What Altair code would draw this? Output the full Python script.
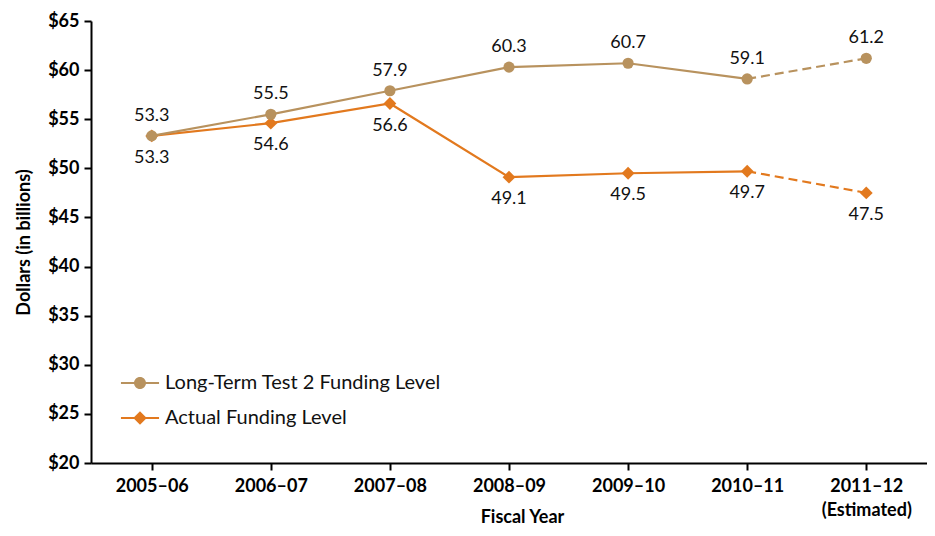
import altair as alt
import pandas as pd

years = ["2005–06", "2006–07", "2007–08", "2008–09", "2009–10", "2010–11", "2011–12"]
long_term = [53.3, 55.5, 57.9, 60.3, 60.7, 59.1, 61.2]
actual = [53.3, 54.6, 56.6, 49.1, 49.5, 49.7, 47.5]
series_names = ["Long-Term Test 2 Funding Level", "Actual Funding Level"]
y_ticks = [20, 25, 30, 35, 40, 45, 50, 55, 60, 65]

TAN = "#B8925E"
ORANGE = "#E2791E"
FONT = "Lato"

rows = []
for i, yr in enumerate(years):
    rows.append(dict(year=yr, idx=i, series=series_names[0], value=long_term[i]))
    rows.append(dict(year=yr, idx=i, series=series_names[1], value=actual[i]))
df = pd.DataFrame(rows)

base = alt.Chart(df)

x = alt.X(
    "year:N",
    sort=years,
    scale=alt.Scale(type="point", padding=0.51),
    axis=alt.Axis(
        title="Fiscal Year",
        labelAngle=0,
        labelPadding=7,
        labelLineHeight=24,
        labelExpr="datum.value == '2011–12' ? ['2011–12', '(Estimated)'] : datum.value",
        titleY=59,
        titleX=431,
        titleBaseline="alphabetic",
    ),
)
y = alt.Y(
    "value:Q",
    scale=alt.Scale(domain=[20, 65], nice=False, zero=False),
    axis=alt.Axis(
        title="Dollars (in billions)",
        values=y_ticks,
        labelExpr="'$' + datum.value",
        labelPadding=5,
        titlePadding=14,
    ),
)
color_scale = alt.Scale(domain=series_names, range=[TAN, ORANGE])


def series_layers(name, col, shape, size, dy):
    sub = base.transform_filter(alt.datum.series == name)
    solid = sub.transform_filter(alt.datum.idx <= 5).mark_line(
        strokeWidth=2.2, color=col
    ).encode(x=x, y=y)
    dashed = sub.transform_filter(alt.datum.idx >= 5).mark_line(
        strokeWidth=2.2, strokeDash=[9, 5], color=col
    ).encode(x=x, y=y)
    pts = sub.mark_point(
        shape=shape, size=size, filled=True, opacity=1, color=col
    ).encode(x=x, y=y)
    labels = sub.mark_text(
        dy=dy, fontSize=18, font=FONT, color="#111111", baseline="middle"
    ).encode(x=x, y=y, text=alt.Text("value:Q", format=".1f"))
    return [solid, dashed, pts, labels]


circle_path = (
    "M-1.27,-0.07 L1.27,-0.07 L1.27,0.07 L-1.27,0.07 Z "
    "M-0.4,0 A0.4,0.4 0 1,1 0.4,0 A0.4,0.4 0 1,1 -0.4,0 Z"
)
diamond_path = (
    "M-1.27,-0.07 L1.27,-0.07 L1.27,0.07 L-1.27,0.07 Z "
    "M0,-0.45 L0.45,0 L0,0.45 L-0.45,0 Z"
)

leg = alt.Legend(
    title=None,
    orient="none",
    legendX=34,
    legendY=347,
    symbolSize=900,
    symbolStrokeWidth=0,
    symbolOpacity=1,
    labelFontSize=20,
    labelFont=FONT,
    labelColor="#111111",
    labelOffset=10,
    labelLimit=0,
    rowPadding=10,
)

legend_layer = base.mark_point(filled=True, opacity=0).encode(
    x=x,
    y=y,
    color=alt.Color("series:N", scale=color_scale, legend=leg),
    shape=alt.Shape(
        "series:N",
        scale=alt.Scale(domain=series_names, range=[circle_path, diamond_path]),
        legend=leg,
    ),
)

layers = (
    series_layers(series_names[1], ORANGE, "diamond", 165, 22)
    + series_layers(series_names[0], TAN, "circle", 125, -20)
    + [legend_layer]
)

chart = (
    alt.layer(*layers)
    .properties(
        width=836,
        height=442,
        autosize=alt.AutoSizeParams(type="none"),
        padding={"left": 83, "top": 13, "right": 0, "bottom": 65},
    )
    .configure_view(stroke=None)
    .configure_axis(
        grid=False,
        domainColor="#000000",
        domainWidth=2,
        tickColor="#000000",
        tickWidth=2,
        tickSize=7,
        labelFont=FONT,
        labelFontWeight="bold",
        labelFontSize=18,
        labelColor="#000000",
        titleFont=FONT,
        titleFontWeight="bold",
        titleFontSize=18,
        titleColor="#000000",
    )
)

chart.save("out.html", embed_options={"renderer": "svg", "actions": False})
